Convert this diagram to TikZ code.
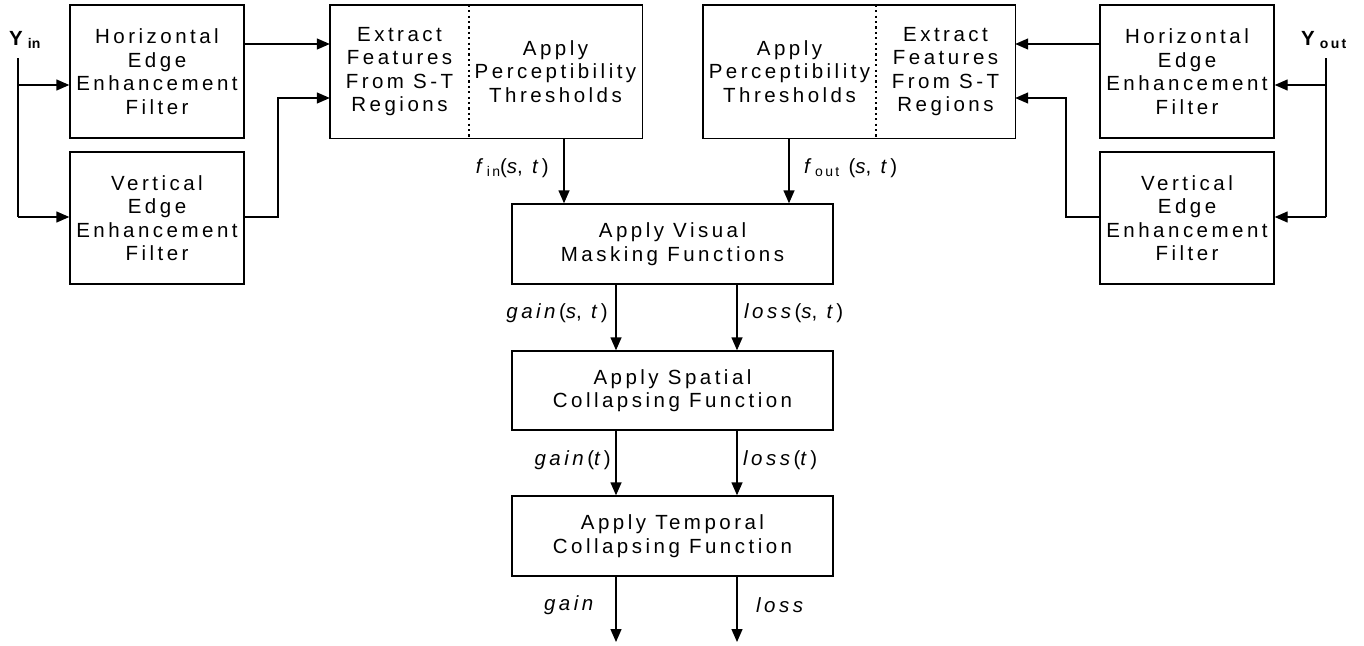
\documentclass[tikz,border=0pt]{standalone}
\usepackage{fontspec}
\setmainfont{Liberation Sans}
\newfontfamily\spfont[LetterSpace=17]{Liberation Sans}
\usetikzlibrary{arrows.meta}
\begin{document}
\begin{tikzpicture}[x=1pt,y=-1pt,
  txt/.style={inner sep=0pt, align=center, font=\spfont\fontsize{20.5}{23.5}\selectfont},
  blk/.style={txt, draw, line width=1.4pt},
  half/.style={txt},
  arr/.style={-{Triangle[length=13pt,width=11pt]}, line width=1.4pt},
  ln/.style={line width=1.4pt},
  dots/.style={line width=1.8pt, dash pattern=on 2.2pt off 3.2pt},
  lbl/.style={inner sep=0pt, font=\spfont\fontsize{20.5}{23.5}\selectfont}]
\useasboundingbox (0,0) rectangle (1364,645);
% left filters
\node[blk, minimum width=174pt, minimum height=133pt] (hin) at (157,71.5) {Horizontal\\Edge\\Enhancement\\Filter};
\node[blk, minimum width=174pt, minimum height=132pt] (vin) at (157,218) {Vertical\\Edge\\Enhancement\\Filter};
% left composite
\node[half, minimum width=139pt, minimum height=133pt] (extin) at (399.5,71.5) {Extract\\Features\\From S-T\\Regions};
\node[half, minimum width=173pt, minimum height=133pt] (thrin) at (555.5,71.5) {Apply\\Perceptibility\\Thresholds};
\draw[ln] (extin.north west) rectangle (thrin.south east);
\draw[dots] (extin.north east) -- (extin.south east);
% right composite
\node[half, minimum width=173pt, minimum height=133pt] (throut) at (789.5,71.5) {Apply\\Perceptibility\\Thresholds};
\node[half, minimum width=139pt, minimum height=133pt] (extout) at (945.5,71.5) {Extract\\Features\\From S-T\\Regions};
\draw[ln] (throut.north west) rectangle (extout.south east);
\draw[dots] (throut.north east) -- (throut.south east);
% right filters
\node[blk, minimum width=174pt, minimum height=133pt] (hout) at (1187,71.5) {Horizontal\\Edge\\Enhancement\\Filter};
\node[blk, minimum width=174pt, minimum height=132pt] (vout) at (1187,218) {Vertical\\Edge\\Enhancement\\Filter};
% central chain
\node[blk, minimum width=321pt, minimum height=80pt] (mask) at (672.5,244) {Apply Visual\\Masking Functions};
\node[blk, minimum width=321pt, minimum height=79pt] (spat) at (672.5,390.5) {Apply Spatial\\Collapsing Function};
\node[blk, minimum width=321pt, minimum height=80pt] (temp) at (672.5,536) {Apply Temporal\\Collapsing Function};
% inputs
\node[inner sep=0pt, anchor=west, font=\fontsize{20.5}{20}\selectfont\bfseries] (yin) at (9,40) {Y\hspace{5pt}\raisebox{-3pt}{\fontsize{14}{14}\selectfont in}};
\node[inner sep=0pt, anchor=west, font=\fontsize{20.5}{20}\selectfont\bfseries] (yout) at (1301,40) {Y\hspace{5pt}\raisebox{-3pt}{\spfont\fontsize{14}{14}\selectfont\bfseries out}};
\coordinate (yinT) at (18,58);
\coordinate (yinA) at (18,85);
\coordinate (yinB) at (18,217);
\coordinate (youtT) at (1326,58);
\coordinate (youtA) at (1326,85);
\coordinate (youtB) at (1326,217);
\draw[ln] (yinT) -- (yinB);
\draw[arr] (yinA) -- (yinA -| hin.west);
\draw[arr] (yinB) -- (yinB -| vin.west);
\draw[ln] (youtT) -- (youtB);
\draw[arr] (youtA) -- (youtA -| hout.east);
\draw[arr] (youtB) -- (youtB -| vout.east);
% filters to composites
\coordinate (r44) at (0,44);
\coordinate (r98) at (0,98);
\coordinate (r217) at (0,217);
\draw[arr] (hin.east |- r44) -- (extin.west |- r44);
\draw[arr] (vin.east |- r217) -- (278,217) -- (278,98) -- (extin.west |- r98);
\draw[arr] (hout.west |- r44) -- (extout.east |- r44);
\draw[arr] (vout.west |- r217) -- (1066,217) -- (1066,98) -- (extout.east |- r98);
% composites to mask
\coordinate (cfin) at (564,0);
\coordinate (cfout) at (789,0);
\coordinate (cg) at (616,0);
\coordinate (cl) at (737,0);
\draw[arr] (thrin.south -| cfin) -- (mask.north -| cfin);
\draw[arr] (throut.south -| cfout) -- (mask.north -| cfout);
\draw[arr] (mask.south -| cg) -- (spat.north -| cg);
\draw[arr] (mask.south -| cl) -- (spat.north -| cl);
\draw[arr] (spat.south -| cg) -- (temp.north -| cg);
\draw[arr] (spat.south -| cl) -- (temp.north -| cl);
\coordinate (endg) at (616,642);
\coordinate (endl) at (737,642);
\draw[arr] (temp.south -| cg) -- (endg);
\draw[arr] (temp.south -| cl) -- (endl);
% labels
\node[lbl, anchor=east] (lfin) at (549,168) {\textit{f}\raisebox{-3pt}{\fontsize{14}{14}\selectfont in}(\textit{s}, \textit{t})};
\node[lbl, anchor=west] (lfout) at (804,168) {\textit{f}\raisebox{-3pt}{\fontsize{14}{14}\selectfont out} (\textit{s}, \textit{t})};
\node[lbl, anchor=east] (lg1) at (608,313) {\textit{gain}(\textit{s}, \textit{t})};
\node[lbl, anchor=west] (ll1) at (744,313) {\textit{loss}(\textit{s}, \textit{t})};
\node[lbl, anchor=east] (lg2) at (611,460) {\textit{gain}(\textit{t})};
\node[lbl, anchor=west] (ll2) at (743,460) {\textit{loss}(\textit{t})};
\node[lbl, anchor=east] (lg3) at (597,605) {\textit{gain}};
\node[lbl, anchor=west] (ll3) at (756,605) {\textit{loss}};
\end{tikzpicture}
\end{document}
